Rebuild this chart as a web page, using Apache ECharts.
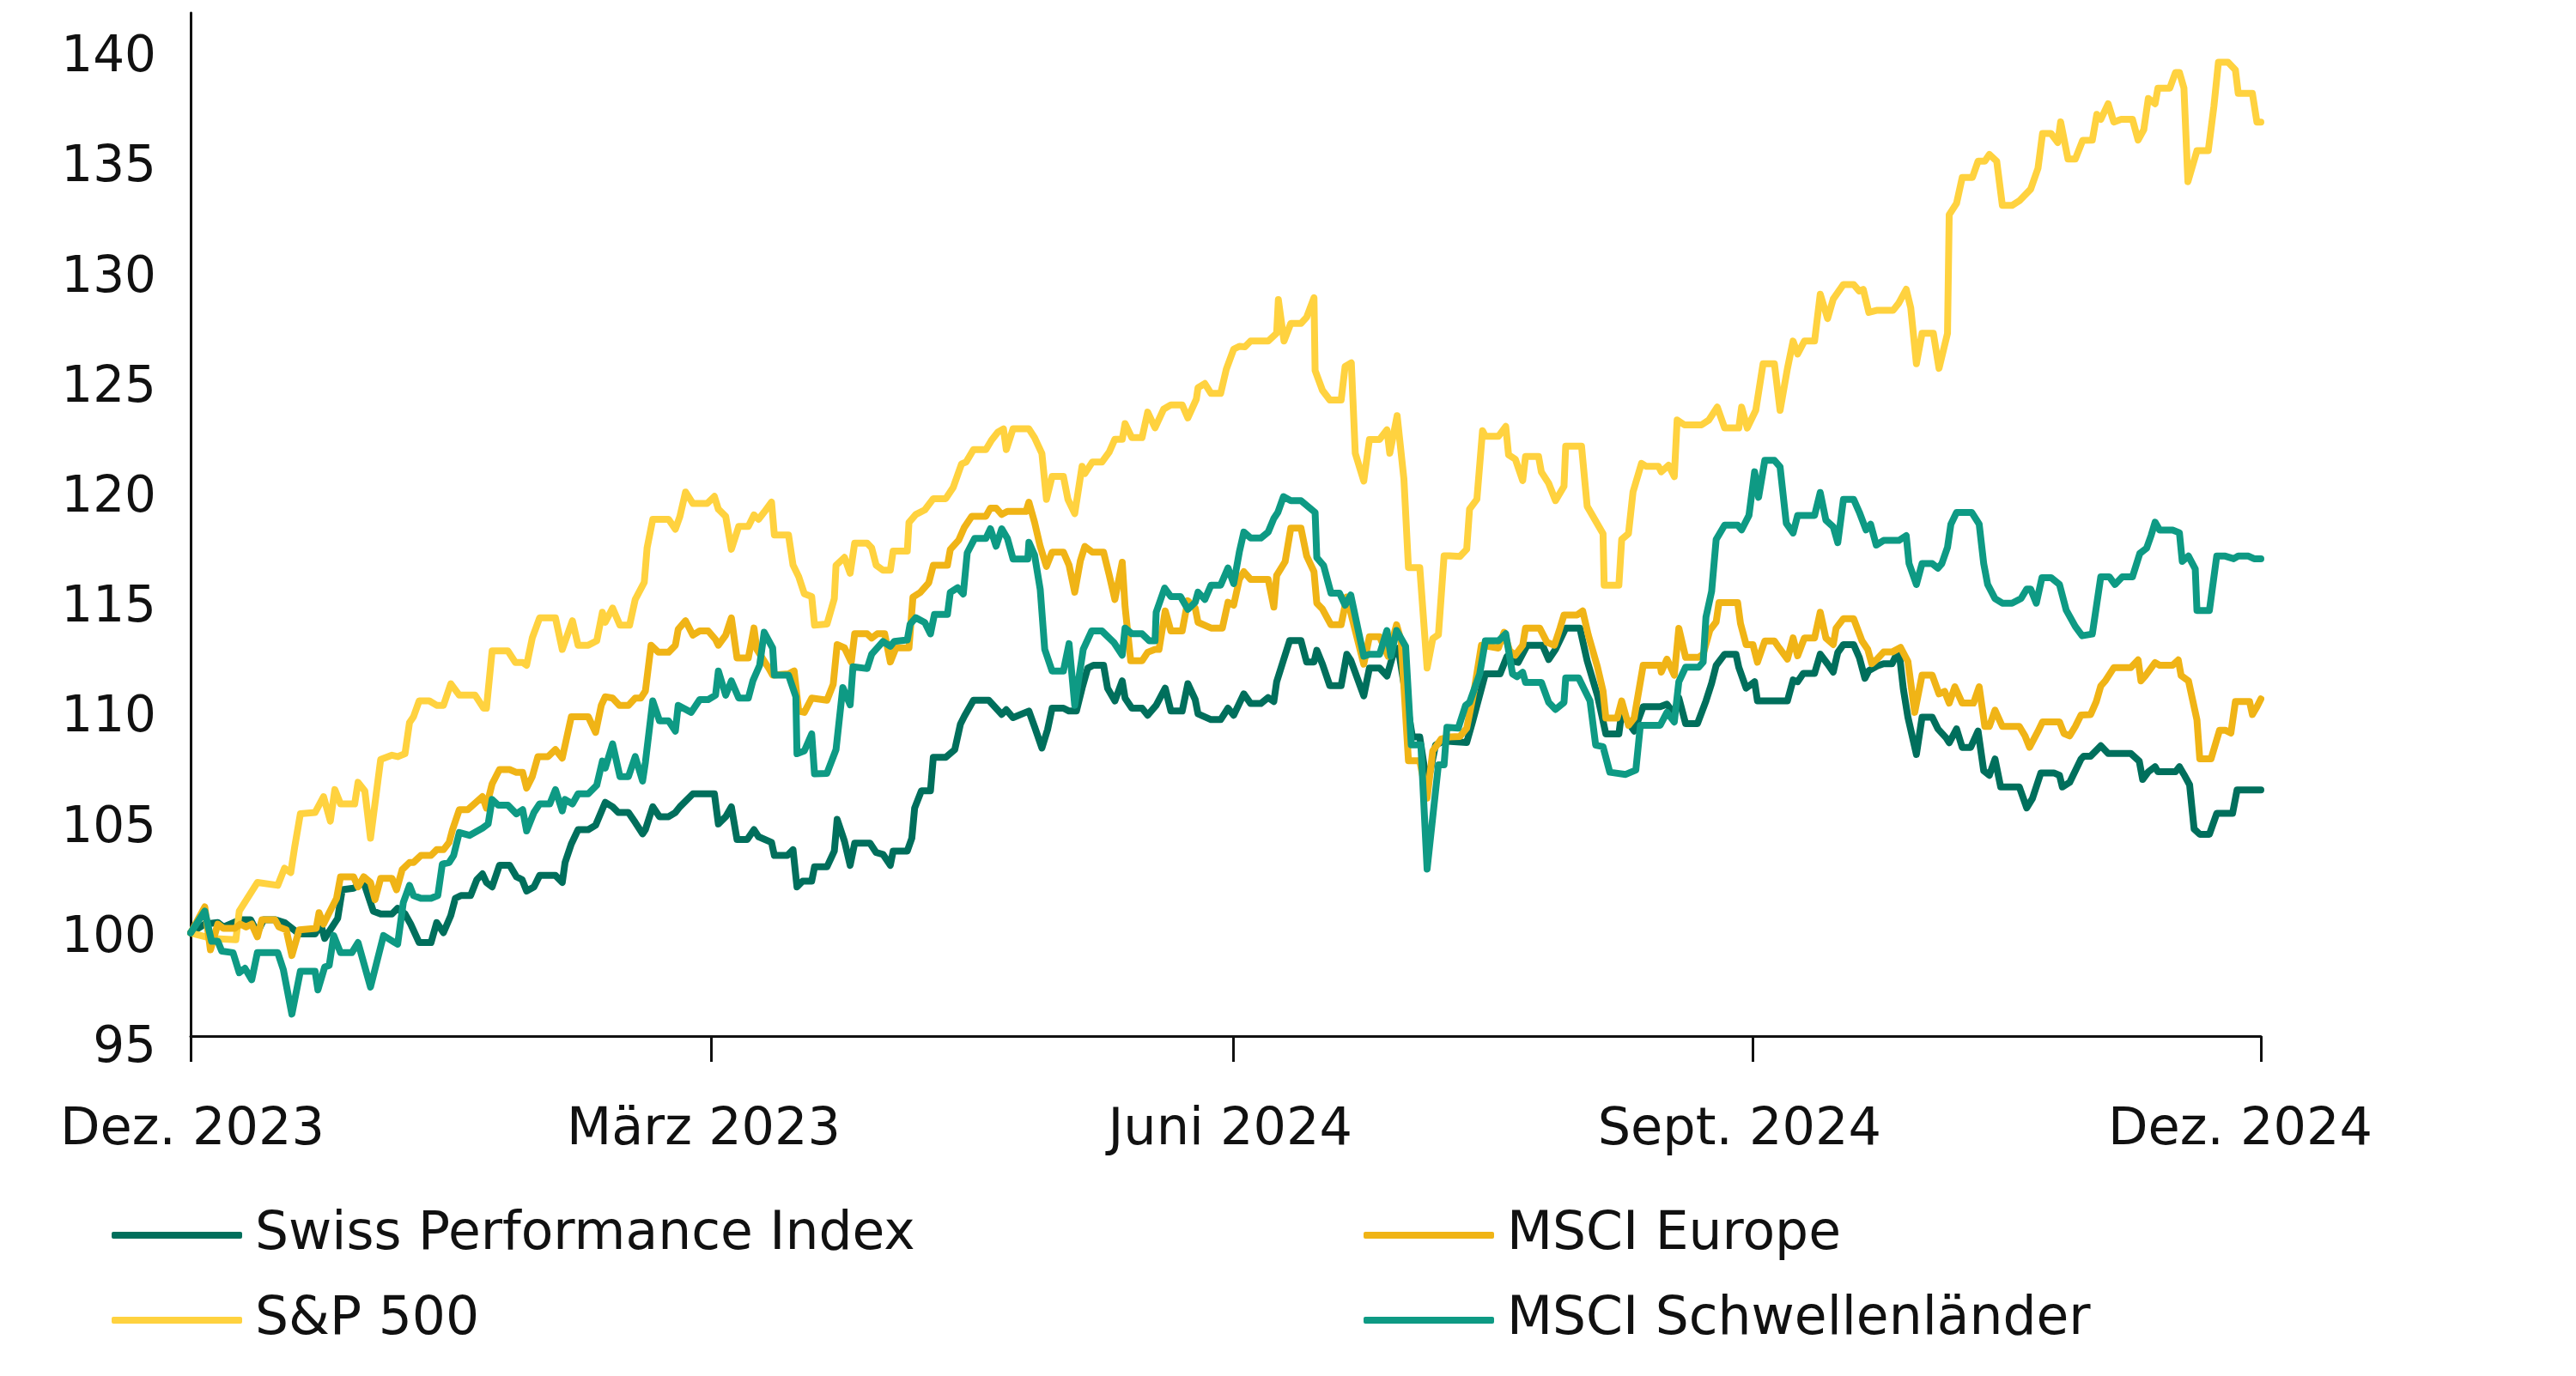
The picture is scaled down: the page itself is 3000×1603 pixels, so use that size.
<!DOCTYPE html>
<html>
<head>
<meta charset="utf-8">
<script src="https://cdn.jsdelivr.net/npm/echarts@6/dist/echarts.min.js"></script>
<style>
html,body{margin:0;padding:0;background:#fff;}
#chart{width:3000px;height:1603px;}
</style>
</head>
<body>
<div id="chart"></div>
<script>
// x = days since 1 Dec 2023
const xTickLabels = ['Dez. 2023', 'März 2023', 'Juni 2024', 'Sept. 2024', 'Dez. 2024'];
const xTickDays = [0, 92.0, 184.4, 276.1, 366];
const seriesNames = ['Swiss Performance Index', 'S&P 500', 'MSCI Europe', 'MSCI Schwellenländer'];

const spiDays = [0,2.5,4.8,5.8,8.8,10.6,11.8,12.9,14.9,16.6,17.9,19.2,22.0,23.0,23.7,26.0,26.8,28.8,30.6,32.3,33.6,35.6,
36.6,37.9,38.9,40.4,42.5,43.5,44.7,46.0,46.8,47.8,49.5,50.6,51.6,52.3,53.3,54.6,56.4,57.6,58.6,59.4,60.7,61.7,64.5,65.7,66.2,67.3,68.5,70.3,71.6,73.3,
74.6,75.6,77.4,78.6,79.9,80.4,81.7,82.9,84.5,85.7,86.5,88.8,92.6,93.3,94.6,95.6,96.6,98.4,99.6,100.4,102.7,103.2,105.5,106.5,107.2,108.2,109.8,110.3,
112.5,113.8,114.3,115.6,116.6,117.4,120.1,121.2,122.4,123.7,124.2,126.7,127.5,128.0,129.2,130.8,131.3,133.5,135.1,136.1,136.8,138.4,141.1,143.4,144.2,145.4,
148.2,149.2,150.5,151.5,152.3,154.3,155.3,156.6,157.6,158.6,159.6,161.4,162.1,163.4,164.7,165.2,166.4,168.2,169.2,170.7,172.3,173.3,175.3,176.3,177.6,178.1,180.4,182.1,183.4,184.4,
186.2,187.4,189.2,190.5,191.5,192.0,193.2,194.3,196.3,197.3,198.6,199.1,200.1,201.4,203.4,204.4,205.1,207.4,208.4,210.2,211.5,212.5,213.5,216.0,217.3,218.6,220.1,221.6,
225.6,226.6,228.9,231.5,232.7,233.5,234.7,236.3,239.0,240.1,241.3,243.1,245.6,246.9,248.7,250.2,252.5,253.0,254.2,255.2,256.8,259.8,
261.0,262.3,263.1,264.3,266.4,267.9,268.9,269.7,271.2,273.2,273.7,275.0,276.5,277.0,282.3,283.3,284.1,285.1,287.1,288.1,289.4,290.4,291.2,292.2,294.0,295.0,296.0,
296.7,298.2,299.3,300.8,302.0,302.8,303.6,305.1,306.1,307.9,308.9,310.4,310.9,312.2,313.2,314.7,316.0,317.0,318.0,319.0,320.0,323.3,324.6,325.6,327.1,329.4,330.4,330.9,332.2,334.2,
334.7,335.9,337.7,339.0,343.0,344.5,345.1,346.1,347.3,347.8,350.9,351.6,352.4,353.4,354.2,355.2,356.9,358.2,361.0,361.8,366.0];
const spiValues = [100,100.40,100.47,100.27,100.60,100.60,100.01,100.60,100.60,100.47,100.21,99.95,99.95,100.40,99.75,100.66,101.96,102.03,102.29,100.99,100.86,100.86,
101.12,100.86,100.40,99.56,99.56,100.47,100.01,100.79,101.57,101.70,101.70,102.42,102.68,102.29,102.09,103.07,103.07,102.55,102.42,101.90,102.09,102.61,102.61,102.29,103.20,104.04,104.69,104.69,104.89,105.93,
105.73,105.47,105.47,105.02,104.50,104.69,105.73,105.28,105.28,105.47,105.73,106.32,106.32,104.95,105.28,105.73,104.24,104.24,104.69,104.37,104.11,103.52,103.52,103.78,102.09,102.35,102.35,103.00,
103.00,103.72,105.16,104.16,103.07,104.08,104.08,103.65,103.57,103.07,103.72,103.72,104.30,105.67,106.46,106.46,107.98,107.98,108.33,109.49,109.85,110.57,110.57,109.93,110.14,109.78,
110.08,109.37,108.40,109.24,110.21,110.21,110.08,110.08,111.12,112.03,112.16,112.16,111.12,110.54,111.45,110.67,110.21,110.21,109.89,110.34,111.12,110.08,110.08,111.32,110.60,109.95,109.69,109.69,110.21,109.89,
110.86,110.42,110.42,110.69,110.51,111.41,112.39,113.28,113.28,112.31,112.31,112.84,112.21,111.23,111.23,112.66,112.39,110.77,112.03,112.03,111.67,112.57,112.93,108.90,108.90,106.67,108.54,108.72,
108.65,109.56,111.77,111.77,112.55,112.36,112.29,113.07,113.07,112.42,112.88,113.85,113.85,112.36,110.80,109.04,109.04,110.02,109.56,109.17,110.28,110.28,
110.39,109.95,110.68,109.51,109.51,110.54,111.34,112.15,112.66,112.66,112.07,111.12,111.41,110.54,110.54,111.49,111.41,111.79,111.79,112.66,112.22,111.85,112.74,113.10,113.10,112.52,111.57,
111.92,112.13,112.23,112.23,112.87,111.07,109.80,108.11,109.80,109.80,109.27,108.85,108.64,109.27,108.43,108.43,109.17,107.37,107.16,107.90,106.63,106.63,105.68,106.10,107.27,107.27,107.16,106.63,106.84,107.90,
108.03,108.03,108.50,108.15,108.15,107.80,106.97,107.32,107.55,107.32,107.32,107.55,107.20,106.73,104.72,104.48,104.48,105.43,105.43,106.50,106.50];

const spxDays = [0,3.7,8.0,8.6,11.8,15.4,16.6,17.7,18.4,19.4,22.0,23.5,24.7,25.5,26.5,29.0,29.6,30.8,31.8,33.6,35.6,
36.6,37.9,38.7,39.4,40.4,42.2,43.5,44.7,46.0,47.5,50.3,51.8,52.3,53.3,56.1,57.4,58.7,59.4,60.4,61.7,64.5,65.7,67.5,68.5,70.3,71.8,72.8,73.3,
74.6,75.9,77.6,78.6,80.2,80.7,81.7,84.5,85.7,86.5,87.5,88.8,91.3,92.6,93.3,94.6,95.6,96.9,98.6,99.6,100.4,101.4,102.7,103.2,105.7,106.5,107.5,108.5,109.8,110.3,
112.5,113.8,114.1,115.6,116.6,117.4,119.6,120.4,121.2,122.4,123.7,124.2,126.7,127.0,128.2,129.8,131.3,133.5,134.8,136.3,137.1,138.4,140.6,141.6,142.7,143.7,144.2,145.4,148.2,
149.2,150.5,151.3,152.3,154.3,155.1,156.3,157.6,158.1,159.4,161.1,162.4,163.4,164.7,165.2,166.4,168.2,169.2,170.5,172.0,173.3,175.3,176.3,177.8,178.1,179.3,180.4,182.1,183.1,184.4,185.4,
186.4,187.4,190.5,192.0,192.3,193.3,194.5,196.3,197.3,198.6,198.8,200.1,201.4,203.4,204.1,205.2,205.9,207.4,208.4,210.2,211.5,212.0,213.3,214.5,215.3,217.3,218.6,219.6,220.6,221.6,222.6,
224.4,225.6,226.1,227.4,228.4,228.9,231.2,232.5,233.0,234.2,235.5,236.0,238.3,238.8,240.1,241.3,242.8,243.1,245.9,246.9,249.7,249.9,252.5,253.0,254.2,255.0,256.5,257.3,259.5,
260.0,261.3,262.3,262.8,264.1,267.1,268.4,269.9,271.2,273.7,274.2,275.2,276.7,278.0,280.0,281.0,282.3,283.3,284.1,285.3,287.1,288.1,289.4,290.4,292.2,294.0,295.0,295.7,
296.7,298.2,301.0,302.0,303.3,304.1,305.1,306.1,308.1,309.1,310.6,310.9,312.2,313.2,315.0,316.0,317.2,318.0,319.3,320.3,322.0,323.3,325.3,326.6,327.4,328.9,330.1,330.6,331.9,333.2,334.5,
336.2,337.0,337.7,339.0,340.0,341.3,343.3,344.3,345.3,346.1,347.3,347.8,349.9,350.9,351.6,352.4,353.1,354.7,356.7,357.7,358.5,360.2,361.5,362.0,364.5,365.3,366.0];
const spxValues = [100,99.75,99.69,100.99,102.29,102.16,102.94,102.74,103.91,105.41,105.47,106.19,105.08,106.51,105.86,105.86,106.84,106.45,104.30,107.88,108.07,
108.01,108.14,109.56,109.82,110.54,110.54,110.34,110.34,111.32,110.80,110.80,110.21,110.21,112.81,112.81,112.29,112.29,112.16,113.40,114.31,114.31,112.88,114.18,113.07,113.07,113.27,114.57,114.11,
114.76,113.98,113.98,115.15,115.93,117.49,118.79,118.79,118.34,118.92,120.03,119.51,119.51,119.83,119.25,118.92,117.43,118.47,118.47,118.99,118.79,119.12,119.57,118.08,118.08,116.71,116.19,115.41,115.28,113.98,
114.03,115.19,116.70,117.06,116.34,117.71,117.71,117.49,116.70,116.48,116.48,117.35,117.35,118.65,119.01,119.22,119.73,119.73,120.23,121.31,121.39,121.96,121.96,122.39,122.75,122.90,121.96,122.90,122.90,
122.50,121.78,119.70,120.74,120.74,119.70,119.05,121.20,120.87,121.39,121.39,121.85,122.43,122.43,123.14,122.50,122.50,123.66,122.95,123.79,123.99,123.99,123.40,124.25,124.77,124.96,124.51,124.51,125.61,126.52,126.65,
126.63,126.89,126.89,127.25,128.77,126.89,127.69,127.69,127.97,128.86,125.55,124.65,124.21,124.21,125.73,125.90,121.79,120.53,122.42,122.42,122.86,121.79,123.50,120.62,116.60,116.60,112.03,113.37,113.55,117.13,117.13,
117.10,117.43,119.25,119.70,122.82,122.56,122.56,123.01,121.72,121.52,120.55,121.65,121.65,120.94,120.42,119.64,120.29,122.11,122.11,119.38,118.14,115.80,115.80,117.88,118.14,120.03,121.33,121.20,121.20,
120.95,121.25,120.73,123.30,123.08,123.08,123.30,123.89,122.94,122.94,123.89,122.94,123.74,125.86,125.86,123.74,125.64,126.89,126.30,126.89,126.89,129.02,127.91,128.80,129.46,129.46,129.16,129.24,
128.19,128.29,128.29,128.62,129.24,128.40,125.86,127.24,127.24,125.65,127.24,132.63,133.15,134.32,134.32,135.06,135.06,135.37,135.06,133.05,133.05,133.26,133.79,134.74,136.32,136.32,135.91,136.85,135.16,135.16,136.01,
136.02,137.19,136.96,137.67,136.84,136.96,136.96,136.02,136.49,137.91,137.67,138.38,138.38,139.09,139.09,138.38,134.13,135.54,135.54,137.56,139.56,139.56,139.21,138.14,138.14,136.84,136.84];

const eurDays = [0,2.5,3.5,4.8,5.8,7.8,8.8,9.8,10.8,11.8,12.6,14.9,15.6,16.9,17.9,19.2,22.2,22.7,23.5,24.5,25.8,26.5,28.8,29.6,30.6,31.8,32.6,33.6,35.6,
36.4,37.4,38.7,39.4,40.7,42.5,43.5,44.7,45.7,46.3,47.5,49.0,51.6,52.3,52.8,53.3,54.6,56.4,57.6,58.7,59.4,60.4,61.4,63.2,64.5,65.7,67.3,70.3,71.6,72.6,73.3,
74.6,75.8,77.4,78.6,79.6,80.4,81.4,82.7,84.5,85.7,86.2,87.5,88.8,90.0,91.5,92.8,93.3,94.6,95.6,96.6,98.6,99.6,100.1,102.2,102.9,105.7,106.7,107.5,108.5,109.8,
112.5,113.6,114.3,115.6,116.8,117.4,119.6,120.4,121.4,122.7,123.7,124.7,127.0,127.7,129.0,130.5,131.3,133.8,134.3,135.8,136.8,138.1,140.6,141.4,142.4,143.4,144.4,147.7,
148.2,149.2,150.2,151.3,152.3,154.3,155.3,156.3,157.3,158.1,159.4,161.4,162.4,163.4,164.7,165.2,166.2,168.2,169.2,170.5,171.2,172.3,173.3,175.3,176.3,177.6,178.1,180.4,182.4,183.4,184.4,185.4,
186.2,187.4,190.5,191.5,192.0,193.5,194.5,196.3,197.3,198.6,199.1,200.1,201.6,203.4,204.4,207.4,208.4,210.2,211.7,213.2,214.0,215.3,217.3,218.6,219.6,221.1,222.6,
224.4,225.6,226.9,228.2,231.2,232.2,233.2,234.2,235.5,236.0,238.5,239.8,241.1,242.1,242.8,245.1,246.1,247.1,248.7,249.7,250.2,252.2,253.0,254.2,255.2,256.8,259.8,
260.0,261.0,262.3,263.1,264.3,266.6,267.4,268.6,269.7,270.2,273.5,274.0,275.0,276.2,277.0,278.3,280.0,280.8,282.3,283.3,284.1,285.3,287.1,288.1,289.1,290.4,290.9,292.2,294.0,295.5,296.5,
297.2,298.2,299.3,300.8,302.3,303.6,304.8,306.1,307.9,309.1,310.1,310.9,311.9,313.2,315.2,316.2,317.2,318.0,319.0,320.3,323.3,324.3,325.1,326.6,327.4,330.4,331.2,332.2,333.2,334.2,
335.9,336.9,337.7,338.5,340.0,343.0,344.3,344.8,345.6,347.3,348.1,350.4,351.4,351.9,353.2,354.7,355.2,357.2,358.7,359.7,360.7,361.5,364.0,364.5,365.3,366.0];
const eurValues = [100,101.18,99.23,100.40,100.21,100.21,100.40,100.27,100.40,99.82,100.60,100.60,100.27,100.14,98.97,100.14,100.21,100.92,100.40,100.92,101.57,102.55,102.55,102.09,102.55,102.29,101.51,102.48,102.48,
101.96,102.87,103.20,103.20,103.52,103.52,103.78,103.78,104.11,104.69,105.60,105.60,106.19,105.67,106.25,106.77,107.42,107.42,107.29,107.29,106.58,107.10,108.01,108.01,108.33,107.94,109.82,109.82,109.11,110.34,110.73,
110.67,110.34,110.34,110.67,110.67,110.99,113.07,112.75,112.75,113.07,113.79,114.18,113.53,113.72,113.72,113.33,113.07,113.53,114.31,112.49,112.49,113.85,112.88,112.03,111.71,111.77,111.90,110.08,110.02,110.67,
110.57,111.29,113.10,112.95,112.31,113.59,113.59,113.39,113.59,113.59,112.31,112.95,112.95,115.26,115.47,115.91,116.70,116.70,117.42,117.85,118.43,118.93,118.93,119.30,119.30,119.01,119.15,119.15,
119.57,118.66,117.56,116.65,117.30,117.30,116.71,115.48,116.91,117.56,117.30,117.30,116.26,115.15,116.84,114.83,112.36,112.36,112.75,112.88,112.88,114.63,113.72,113.72,115.09,114.76,114.11,113.85,113.85,115.02,114.89,116.06,
116.41,116.06,116.06,114.80,116.24,116.87,118.39,118.39,117.13,116.41,114.98,114.71,114.00,114.00,115.26,112.21,113.46,113.46,112.57,114.00,113.28,107.82,107.82,106.12,108.27,108.81,108.90,
108.92,109.30,110.99,113.07,112.94,113.66,112.81,112.62,113.07,113.85,113.85,113.20,113.07,113.85,114.44,114.44,114.63,113.53,112.10,110.99,109.76,109.76,110.54,109.43,109.76,112.16,112.16,
111.85,112.44,111.71,113.84,112.52,112.52,112.66,113.76,114.13,115.01,115.01,114.06,113.10,113.10,112.30,113.26,113.26,112.96,112.44,113.40,112.59,113.40,113.40,114.57,113.40,113.10,113.84,114.28,114.28,113.26,112.88,
112.23,112.45,112.76,112.76,112.97,112.33,110.02,111.71,111.71,110.86,110.97,110.44,111.18,110.44,110.44,111.18,109.38,109.38,110.12,109.38,109.38,108.95,108.43,109.16,109.59,109.59,109.06,108.95,109.38,109.90,
109.92,110.51,111.22,111.45,112.05,112.05,112.40,111.45,111.69,112.28,112.16,112.16,112.40,111.69,111.45,109.68,107.91,107.91,109.21,109.21,109.08,110.51,110.51,109.92,110.27,110.63];

const emDays = [0,2.5,3.7,4.8,5.5,7.5,8.6,9.6,10.8,11.8,15.4,16.4,17.9,19.4,22.0,22.5,23.7,24.5,25.3,26.5,28.5,29.6,31.8,34.1,36.1,
36.6,37.6,38.7,39.4,40.7,42.5,43.7,44.5,45.7,46.5,47.5,49.3,51.6,52.6,53.3,54.4,56.1,57.6,58.7,59.4,60.7,61.7,63.5,64.5,65.7,66.2,67.5,68.5,70.3,71.8,72.8,73.3,
74.6,75.9,77.4,78.6,79.9,80.4,81.7,82.9,84.5,85.7,86.2,88.5,90.0,91.5,92.8,93.3,94.6,95.6,96.9,98.6,99.4,100.6,101.4,102.9,103.2,105.7,107.0,107.2,108.5,109.8,110.3,
112.5,114.1,115.3,116.6,117.1,119.6,120.4,122.4,123.7,124.4,126.7,127.2,128.2,129.8,130.8,131.5,133.8,134.3,135.6,136.6,137.3,138.6,140.6,141.4,142.4,143.4,144.4,145.4,148.0,
148.2,149.2,150.2,151.0,152.3,154.3,155.3,156.3,157.8,159.3,161.1,163.2,164.7,165.2,166.4,168.2,169.5,170.5,170.7,172.2,173.3,175.0,176.3,177.6,178.1,179.3,180.4,182.1,183.4,184.4,185.4,
186.2,187.4,189.2,190.5,191.5,192.2,193.2,194.5,196.3,198.8,199.1,200.3,201.6,203.1,204.1,205.1,207.4,208.4,210.2,211.5,212.2,213.2,214.8,215.8,217.5,218.6,220.6,221.6,222.1,
224.1,225.4,226.1,227.9,228.9,231.2,232.5,233.7,234.5,235.5,236.0,238.8,240.1,241.3,242.8,243.1,245.4,246.4,247.4,248.4,249.7,250.9,253.7,255.5,256.3,259.8,
261.0,262.3,263.1,264.3,266.6,267.4,267.9,268.9,269.7,271.2,273.5,274.2,275.5,276.5,277.2,278.3,280.0,281.0,282.1,283.3,284.1,287.1,288.1,289.1,290.4,291.2,292.2,294.0,295.0,296.2,
297.0,298.0,299.3,302.0,303.3,303.8,305.1,306.1,307.9,308.9,309.6,310.6,311.2,312.2,314.9,316.2,317.0,317.7,319.0,320.3,322.0,323.6,324.6,325.3,326.3,327.3,328.9,330.4,331.6,333.2,334.4,
336.2,337.7,339.2,340.2,341.5,343.3,344.6,345.8,346.6,347.3,348.1,350.4,351.6,352.1,353.2,354.4,354.7,356.9,358.2,359.7,361.2,362.0,363.8,364.8,366.0];
const emValues = [100,100.99,99.62,99.62,99.17,99.10,98.19,98.39,97.87,99.10,99.10,98.32,96.31,98.26,98.26,97.41,98.45,98.52,99.88,99.10,99.10,99.56,97.54,99.88,99.56,
99.49,101.38,102.16,101.70,101.57,101.57,101.70,103.13,103.20,103.52,104.56,104.43,104.76,104.95,106.06,105.80,105.80,105.41,105.60,104.63,105.47,105.86,105.86,106.51,105.54,106.06,105.86,106.32,106.32,106.71,107.81,107.49,
108.59,107.10,107.10,108.01,106.90,107.75,110.54,109.63,109.63,109.17,110.34,110.02,110.60,110.60,110.80,111.90,110.80,111.45,110.67,110.67,111.45,112.16,113.66,112.94,111.71,111.71,110.73,108.14,108.27,109.04,107.23,
107.25,108.33,111.15,110.36,112.09,112.01,112.66,113.24,113.02,113.24,113.31,114.03,114.32,114.10,113.59,114.47,114.47,115.47,115.68,115.40,117.27,117.92,117.92,118.36,117.57,118.36,117.92,116.99,116.99,
117.75,117.17,115.61,112.88,111.90,111.90,113.14,110.34,112.88,113.72,113.72,113.20,112.62,113.85,113.59,113.59,113.27,113.27,114.57,115.67,115.28,115.28,114.70,115.02,115.48,115.15,115.80,115.80,116.58,115.87,117.30,
118.21,117.94,117.94,118.21,118.83,119.10,119.82,119.64,119.64,119.10,117.05,116.69,115.44,115.44,114.89,115.35,112.57,112.66,112.66,113.74,112.57,113.74,113.02,108.54,108.54,102.90,107.64,107.64,109.34,
109.30,110.34,110.47,111.77,113.27,113.27,113.59,111.77,111.64,111.84,111.38,111.38,110.47,110.15,110.47,111.58,111.58,111.06,110.54,108.53,108.46,107.30,107.20,107.40,109.43,109.43,
110.02,109.58,111.41,112.07,112.07,112.30,114.35,115.52,117.87,118.53,118.53,118.31,118.97,120.95,119.79,121.47,121.47,121.17,118.61,118.17,118.97,118.97,120.01,118.75,118.45,117.73,119.70,119.70,119.12,118.31,
118.57,117.62,117.83,117.83,118.05,116.78,115.83,116.78,116.78,116.57,116.78,117.52,118.57,119.10,119.10,118.57,116.78,115.83,115.19,114.98,114.98,115.19,115.62,115.62,114.98,116.14,116.14,115.83,114.66,113.92,113.50,
113.58,116.18,116.18,115.83,116.18,116.18,117.24,117.48,118.06,118.66,118.30,118.30,118.18,116.88,117.12,116.53,114.65,114.65,117.12,117.12,117.00,117.12,117.12,117.00,117.00];

const seriesColors = ['#006F5C', '#FFD23F', '#F0B416', '#0E9A84'];

function zip(days, values) {
  return days.map(function (d, i) { return [d, values[i]]; });
}

const dataSets = [zip(spiDays, spiValues), zip(spxDays, spxValues), zip(eurDays, eurValues), zip(emDays, emValues)];

const FONT = 'DejaVu Sans';
const TXT = '#111111';

const chart = echarts.init(document.getElementById('chart'), null, {renderer: 'canvas'});

function makeLegend(name, left, top) {
  return {
    data: [name],
    left: left,
    top: top,
    padding: 0,
    icon: 'roundRect',
    itemWidth: 152,
    itemHeight: 8,
    selectedMode: false,
    textStyle: {fontFamily: FONT, fontSize: 61.5, color: TXT, padding: [0, 0, 0, 10]}
  };
}

// per-label horizontal nudge styles (labels sit slightly left of their ticks in the original)
const labelRich = {
  l0: {fontFamily: FONT, fontSize: 60.5, color: TXT, padding: [0, 0, 0, 4]},
  l1: {fontFamily: FONT, fontSize: 60.5, color: TXT, padding: [0, 17, 0, 0]},
  l2: {fontFamily: FONT, fontSize: 60.5, color: TXT, padding: [0, 8, 0, 0]},
  l3: {fontFamily: FONT, fontSize: 60.5, color: TXT, padding: [0, 30, 0, 0]},
  l4: {fontFamily: FONT, fontSize: 60.5, color: TXT, padding: [0, 48, 0, 0]}
};

const yRich = {
  y: {fontFamily: FONT, fontSize: 58, color: TXT, padding: [14, 0, 0, 0]}
};

function xLabel(v) {
  let best = 0;
  for (let i = 1; i < xTickDays.length; i++) {
    if (Math.abs(xTickDays[i] - v) < Math.abs(xTickDays[best] - v)) best = i;
  }
  if (Math.abs(xTickDays[best] - v) >= 1) return '';
  return '{l' + best + '|' + xTickLabels[best] + '}';
}

chart.setOption({
  animation: false,
  backgroundColor: '#ffffff',
  grid: {left: 222, right: 367, top: 15, bottom: 388, containLabel: false},
  legend: [
    makeLegend(seriesNames[0], 130, 1408),
    makeLegend(seriesNames[1], 130, 1507),
    makeLegend(seriesNames[2], 1588, 1408),
    makeLegend(seriesNames[3], 1588, 1507)
  ],
  xAxis: {
    type: 'value',
    min: 0,
    max: 366,
    offset: -8,
    axisLine: {show: true, lineStyle: {color: '#111', width: 3}},
    axisTick: {show: true, length: 30, customValues: xTickDays, lineStyle: {color: '#111', width: 3}},
    splitLine: {show: false},
    axisLabel: {
      fontFamily: FONT, fontSize: 60.5, color: TXT, margin: 80,
      customValues: xTickDays,
      showMinLabel: true, showMaxLabel: true,
      formatter: xLabel,
      rich: labelRich
    }
  },
  yAxis: {
    type: 'value',
    min: 95,
    max: 141.8,
    interval: 5,
    axisLine: {show: true, lineStyle: {color: '#111', width: 3}},
    axisTick: {show: false},
    splitLine: {show: false},
    axisLabel: {
      fontFamily: FONT, fontSize: 58, color: TXT, margin: 40,
      rich: yRich,
      formatter: function (v) { return (Math.abs(v % 5) < 1e-6) ? '{y|' + v + '}' : ''; }
    }
  },
  series: seriesNames.map(function (name, i) {
    return {
      name: name,
      type: 'line',
      data: dataSets[i],
      showSymbol: false,
      symbol: 'none',
      smooth: false,
      color: seriesColors[i],
      lineStyle: {color: seriesColors[i], width: 8, cap: 'round', join: 'round'},
      z: 2 + i
    };
  })
});
</script>
</body>
</html>
